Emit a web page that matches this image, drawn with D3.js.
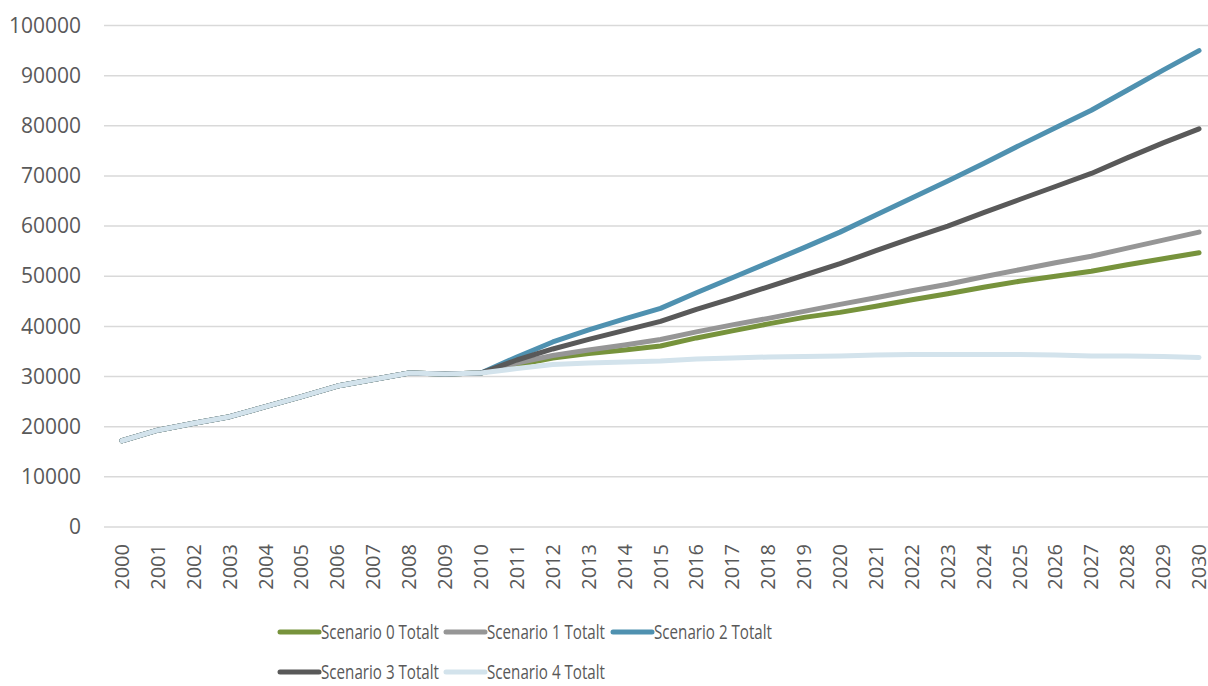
<!DOCTYPE html>
<html>
<head>
<meta charset="utf-8">
<script src="https://cdn.jsdelivr.net/npm/d3@7"></script>
<style>
  html, body { margin: 0; padding: 0; background: #fff; overflow: hidden; }
  svg { display: block; }
  text { font-family: "Open Sans", "DejaVu Sans", sans-serif; fill: #595959; }
</style>
</head>
<body>
<svg id="chart" width="1208" height="686"></svg>
<script>
// Years on the category axis
const years = d3.range(2000, 2031).map(String);

// Y axis tick values
const yTicks = [0, 10000, 20000, 30000, 40000, 50000, 60000, 70000, 80000, 90000, 100000];

// Shared history 2000-2010
const history = [17200, 19300, 20700, 22000, 24000, 26000, 28100, 29400, 30700, 30500, 30700];

// Projections 2011-2030 per scenario
const scenario0 = [32300, 33700, 34600, 35300, 36100, 37700, 39100, 40500, 41800, 42800,
                   44000, 45300, 46500, 47800, 49000, 50000, 51000, 52300, 53500, 54700];
const scenario1 = [32700, 34200, 35300, 36300, 37400, 38900, 40300, 41600, 43000, 44400,
                   45700, 47100, 48400, 49900, 51300, 52700, 54000, 55600, 57200, 58800];
const scenario2 = [33900, 36900, 39300, 41500, 43600, 46700, 49700, 52700, 55700, 58800,
                   62200, 65600, 69000, 72500, 76100, 79600, 83100, 87100, 91100, 95000];
const scenario3 = [33300, 35500, 37400, 39200, 41000, 43400, 45600, 47900, 50200, 52500,
                   55100, 57600, 60000, 62700, 65300, 67900, 70500, 73600, 76600, 79400];
const scenario4 = [31600, 32400, 32700, 32900, 33100, 33500, 33700, 33900, 34000, 34100,
                   34300, 34400, 34400, 34400, 34400, 34300, 34100, 34100, 34000, 33800];

const seriesNames = ["Scenario 0 Totalt", "Scenario 1 Totalt", "Scenario 2 Totalt",
                     "Scenario 3 Totalt", "Scenario 4 Totalt"];
const seriesColors = ["#77933c", "#969696", "#4f91b0", "#595959", "#d3e3ec"];
const seriesValues = [scenario0, scenario1, scenario2, scenario3, scenario4]
  .map(v => history.concat(v));

const svg = d3.select("#chart");

const plot = { left: 104, right: 1217, top: 25.5, bottom: 527 };

const x = d3.scaleBand().domain(years).range([plot.left, plot.right]);
const xc = yr => x(yr) + x.bandwidth() / 2;
const y = d3.scaleLinear().domain([0, 100000]).range([plot.bottom, plot.top]);

// Horizontal gridlines
svg.append("g")
  .selectAll("line")
  .data(yTicks)
  .join("line")
  .attr("x1", plot.left)
  .attr("x2", plot.right)
  .attr("y1", d => y(d))
  .attr("y2", d => y(d))
  .attr("stroke", "#d9d9d9")
  .attr("stroke-width", 1.5);

// Y axis labels
const yAxis = d3.axisLeft(y).tickValues(yTicks).tickSize(0).tickPadding(0)
  .tickFormat(d3.format("d"));
const gy = svg.append("g").attr("transform", `translate(81,0)`).call(yAxis);
gy.select(".domain").remove();
gy.selectAll("text").style("font-size", "21px").attr("fill", "#595959")
  .style("font-family", "'Open Sans', sans-serif");

// X axis labels, rotated
const xAxis = d3.axisBottom(x).tickSize(0).tickPadding(0);
const gx = svg.append("g").attr("transform", `translate(0,${plot.bottom})`).call(xAxis);
gx.select(".domain").remove();
gx.selectAll("text")
  .style("font-size", "20px")
  .style("font-family", "'Open Sans', sans-serif")
  .attr("fill", "#595959")
  .attr("transform", "rotate(-90)")
  .attr("text-anchor", "end")
  .attr("x", -17)
  .attr("y", 0)
  .attr("dy", "0.35em");

// Series lines
const line = d3.line()
  .x((d, i) => xc(years[i]))
  .y(d => y(d));

svg.append("g")
  .selectAll("path")
  .data(seriesValues)
  .join("path")
  .attr("d", d => line(d))
  .attr("fill", "none")
  .attr("stroke", (d, i) => seriesColors[i])
  .attr("stroke-width", 5)
  .attr("stroke-linecap", "round")
  .attr("stroke-linejoin", "round");

// Legend: two rows
const legendPos = [[280, 632], [446, 632], [613, 632], [280, 672], [446, 672]];
const legend = svg.append("g")
  .selectAll("g")
  .data(seriesNames)
  .join("g")
  .attr("transform", (d, i) => `translate(${legendPos[i][0]},${legendPos[i][1]})`);

legend.append("line")
  .attr("x1", 0).attr("x2", 39)
  .attr("y1", 0).attr("y2", 0)
  .attr("stroke", (d, i) => seriesColors[i])
  .attr("stroke-width", 5)
  .attr("stroke-linecap", "round");

legend.append("text")
  .attr("x", 41)
  .attr("y", 0)
  .attr("dy", "0.35em")
  .style("font-size", "20px")
  .attr("textLength", 118)
  .attr("lengthAdjust", "spacingAndGlyphs")
  .text(d => d);
</script>
</body>
</html>
